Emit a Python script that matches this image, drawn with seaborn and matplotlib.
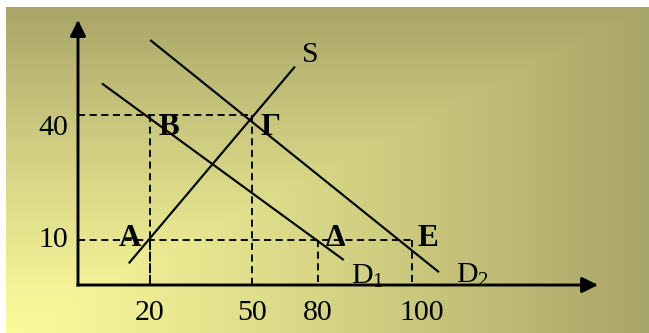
import numpy as np
import matplotlib
matplotlib.use("Agg")
import matplotlib.pyplot as plt
import seaborn as sns
from matplotlib.transforms import ScaledTranslation

# ---------------- data ----------------
X_TICKS = [20, 50, 80, 100]
X_TICK_LABELS = ["20", "50", "80", "100"]
Y_TICKS = [10, 40]
Y_TICK_LABELS = ["10", "40"]

# curve end points (quantity, price)
S_X = [14.3, 69.2]
S_Y = [5.0, 51.4]
D1_X = [6.9, 85.3]
D1_Y = [47.4, 5.7]
D2_X = [20.3, 107.4]
D2_Y = [57.8, 3.0]
CURVE_NAMES = ["S", "D$_1$", "D$_2$"]

# labelled points
POINT_NAMES = ["\u0391", "\u0392", "\u0393", "\u0394", "\u0395"]
POINT_X = [20, 20, 50, 80, 100]
POINT_Y = [10, 40, 40, 10, 10]

# ---------------- layout / style ----------------
W, H = 649, 333
DPI = 100
OX, OY = 78, 285          # origin pixel
AX_RIGHT, AX_TOP = 598, 20
FS = 21.5
FS_BOLD = 22.5

# piecewise axis scale (data -> pixels from origin); the original is not drawn to scale
XK_D = [-100, 0, 20, 50, 80, 100, 300]
XK_P = [-360, 0, 72, 174, 240, 334, 1039]
YK_D = [-100, 0, 10, 40, 80, 300]
YK_P = [-450, 0, 45, 170, 337, 1254]

plt.rcParams["font.family"] = ["Liberation Serif", "DejaVu Serif"]
plt.rcParams["mathtext.fontset"] = "custom"
plt.rcParams["mathtext.rm"] = "Liberation Serif"
plt.rcParams["mathtext.it"] = "Liberation Serif:italic"
plt.rcParams["mathtext.bf"] = "Liberation Serif:bold"

fig = plt.figure(figsize=(W / DPI, H / DPI), dpi=DPI)
fig.patch.set_facecolor("white")

# ---- background gradient (rectangular gradient from bottom-left corner)
bg = fig.add_axes([0, 0, 1, 1], zorder=0)
cols = np.arange(W)
rows = np.arange(H)
left, top = 6, 7
cw = W - left
ch = H - top
xx = (cols[None, :] - left) / cw
yy = ((H - 1) - rows[:, None]) / ch
t = np.clip(np.maximum(xx, yy), 0, 1) ** 1.15
c0 = np.array([251, 251, 156]) / 255.0
c1 = np.array([168, 165, 104]) / 255.0
img = c0[None, None, :] * (1 - t[..., None]) + c1[None, None, :] * t[..., None]
img[:top, :, :] = 1.0
img[:, :left, :] = 1.0
bg.imshow(img, extent=(0, W, H, 0), aspect="auto", interpolation="nearest")
bg.set_axis_off()

# ---- main axes
ax = fig.add_axes([OX / W, (H - OY) / H, (AX_RIGHT - OX) / W, (OY - AX_TOP) / H], zorder=1)
ax.set_facecolor("none")

for xs, ys in [(S_X, S_Y), (D1_X, D1_Y), (D2_X, D2_Y)]:
    sns.lineplot(x=xs, y=ys, ax=ax, color="black", lw=1.55, sort=False,
                 estimator=None, legend=False)

ax.set_xscale("function", functions=(lambda v: np.interp(v, XK_D, XK_P),
                                     lambda p: np.interp(p, XK_P, XK_D)))
ax.set_yscale("function", functions=(lambda v: np.interp(v, YK_D, YK_P),
                                     lambda p: np.interp(p, YK_P, YK_D)))
ax.set_xlim(0, np.interp(AX_RIGHT - OX, XK_P, XK_D))
ax.set_ylim(0, np.interp(OY - AX_TOP, YK_P, YK_D))

# dashed guides
dash_kw = dict(color="black", lw=1.35, linestyle=(0, (3.8, 2.4)))
for yv in sorted(set(POINT_Y)):
    xmax = max(x for x, y in zip(POINT_X, POINT_Y) if y == yv)
    ax.plot([0, xmax], [yv, yv], **dash_kw)
for xv, yv in zip(POINT_X, POINT_Y):
    ax.plot([xv, xv], [yv, 0], **dash_kw)

# point labels
pt_off = [(-20, -6), (19, -20), (18, -20), (17, -6), (16, -6)]
for name, xv, yv, off in zip(POINT_NAMES, POINT_X, POINT_Y, pt_off):
    ax.annotate(name, xy=(xv, yv), xytext=off, textcoords="offset pixels",
                ha="center", va="baseline", fontsize=FS_BOLD, fontweight="bold",
                annotation_clip=False)

# curve labels
ax.annotate(CURVE_NAMES[0], xy=(S_X[1], S_Y[1]), xytext=(16, 5),
            textcoords="offset pixels", ha="center", va="baseline", fontsize=FS,
            annotation_clip=False)
ax.annotate(CURVE_NAMES[1], xy=(D1_X[1], D1_Y[1]), xytext=(8, -24),
            textcoords="offset pixels", ha="left", va="baseline", fontsize=FS,
            annotation_clip=False)
ax.annotate(CURVE_NAMES[2], xy=(D2_X[1], D2_Y[1]), xytext=(18, -11),
            textcoords="offset pixels", ha="left", va="baseline", fontsize=FS,
            annotation_clip=False)

# axes with arrows
for spine in ax.spines.values():
    spine.set_visible(False)
arrow_kw = dict(arrowstyle="-|>,head_length=0.95,head_width=0.47", mutation_scale=10,
                lw=2.1, color="black", shrinkA=0, shrinkB=0, capstyle="projecting")
ax.annotate("", xy=(1, 0), xytext=(0, 0), xycoords="axes fraction", arrowprops=arrow_kw)
ax.annotate("", xy=(0, 1), xytext=(0, 0), xycoords="axes fraction", arrowprops=arrow_kw)

# ticks
ax.set_xticks(X_TICKS, X_TICK_LABELS)
ax.set_yticks(Y_TICKS, Y_TICK_LABELS)
ax.tick_params(axis="x", length=0, pad=10.5, labelsize=FS)
ax.tick_params(axis="y", length=0, pad=7.2, labelsize=FS)
ax.minorticks_off()

x_lab_dx = {"100": 10}
for tick in ax.xaxis.get_major_ticks():
    lab = tick.label1
    dx = x_lab_dx.get(lab.get_text(), 0)
    if dx:
        lab.set_transform(lab.get_transform() + ScaledTranslation(dx / DPI, 0, fig.dpi_scale_trans))
y_lab_dy = {"10": -7, "40": -20}
for tick in ax.yaxis.get_major_ticks():
    lab = tick.label1
    lab.set_va("baseline")
    dy = y_lab_dy.get(lab.get_text(), 0)
    lab.set_transform(lab.get_transform() + ScaledTranslation(0, dy / DPI, fig.dpi_scale_trans))

ax.set_xlabel("")
ax.set_ylabel("")

fig.savefig("out.png", dpi=DPI)
